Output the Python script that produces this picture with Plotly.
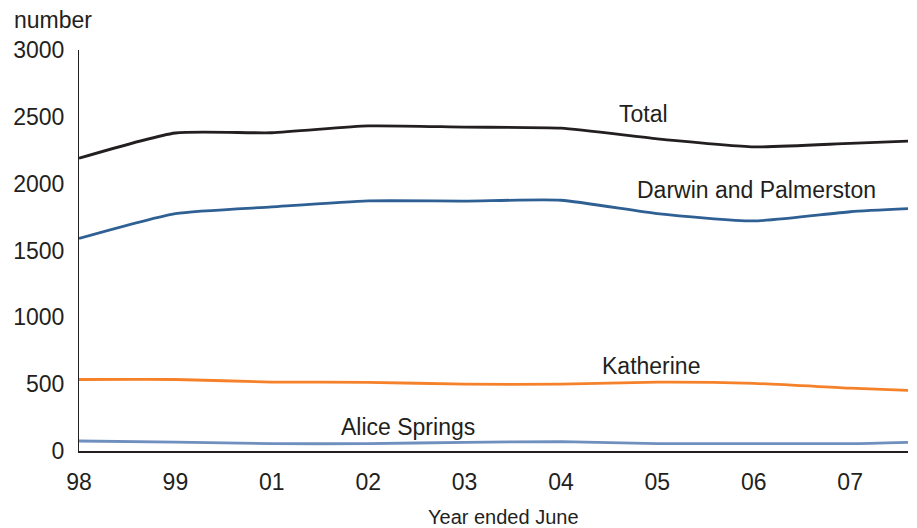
import plotly.graph_objects as go

# Year positions (index along axis); last point is the partial year at the right edge
x_pos = [0, 1, 2, 3, 4, 5, 6, 7, 8, 8.6]
tick_pos = [0, 1, 2, 3, 4, 5, 6, 7, 8]
tick_labels = ["98", "99", "01", "02", "03", "04", "05", "06", "07"]

total = [2190, 2379, 2381, 2432, 2423, 2415, 2335, 2275, 2302, 2318]
darwin = [1590, 1776, 1826, 1871, 1870, 1876, 1776, 1721, 1790, 1813]
katherine = [535, 535, 516, 514, 500, 500, 515, 506, 470, 453]
alice = [75, 67, 55, 55, 65, 70, 55, 55, 55, 65]

series = [
    ("Total", total, "#231f20"),
    ("Darwin and Palmerston", darwin, "#2f6094"),
    ("Katherine", katherine, "#f5822a"),
    ("Alice Springs", alice, "#6f8fbf"),
]

FONT = "Liberation Sans, Arial, sans-serif"
TXT = "#231f20"
FS = 23

fig = go.Figure()
for name, vals, col in series:
    fig.add_trace(go.Scatter(
        x=x_pos, y=vals, mode="lines", name=name,
        line=dict(color=col, width=2.8, shape="spline", smoothing=0.55),
        hoverinfo="skip", showlegend=False,
    ))

labels = [
    ("Total", 5.86, 2521),
    ("Darwin and Palmerston", 7.03, 1953),
    ("Katherine", 5.93, 636),
    ("Alice Springs", 3.41, 180),
]
for text, ax, ay in labels:
    fig.add_annotation(x=ax, y=ay, xref="x", yref="y", text=text, showarrow=False,
                       font=dict(family=FONT, size=FS, color=TXT))

fig.add_annotation(x=(12 - 79) / 829, y=1.075, xref="paper", yref="paper", text="number",
                   showarrow=False, xanchor="left", yanchor="middle",
                   font=dict(family=FONT, size=FS, color=TXT))
fig.add_annotation(x=0.512, y=-0.165, xref="paper", yref="paper", text="Year ended June",
                   showarrow=False, xanchor="center", yanchor="middle",
                   font=dict(family=FONT, size=20, color=TXT))

fig.update_layout(
    width=917, height=528,
    margin=dict(l=79, r=9, t=50, b=77),
    paper_bgcolor="white", plot_bgcolor="white",
    font=dict(family=FONT, size=FS, color=TXT),
    xaxis=dict(range=[0, 8.6], tickmode="array", tickvals=tick_pos, ticktext=tick_labels,
               showgrid=False, zeroline=False, showline=True, linecolor="#231f20",
               linewidth=1.5, ticks="", ticklabelstandoff=10,
               tickfont=dict(family=FONT, size=FS, color=TXT)),
    yaxis=dict(range=[0, 3000], tickmode="array", tickvals=[0, 500, 1000, 1500, 2000, 2500, 3000],
               showgrid=False, zeroline=False, showline=True, linecolor="#231f20",
               linewidth=1.2, ticks="", ticklabelstandoff=9,
               tickfont=dict(family=FONT, size=FS, color=TXT)),
)

fig.write_html("out.html", config={"displayModeBar": False},
               post_script="document.body.style.margin='0';document.body.style.overflow='hidden';")
